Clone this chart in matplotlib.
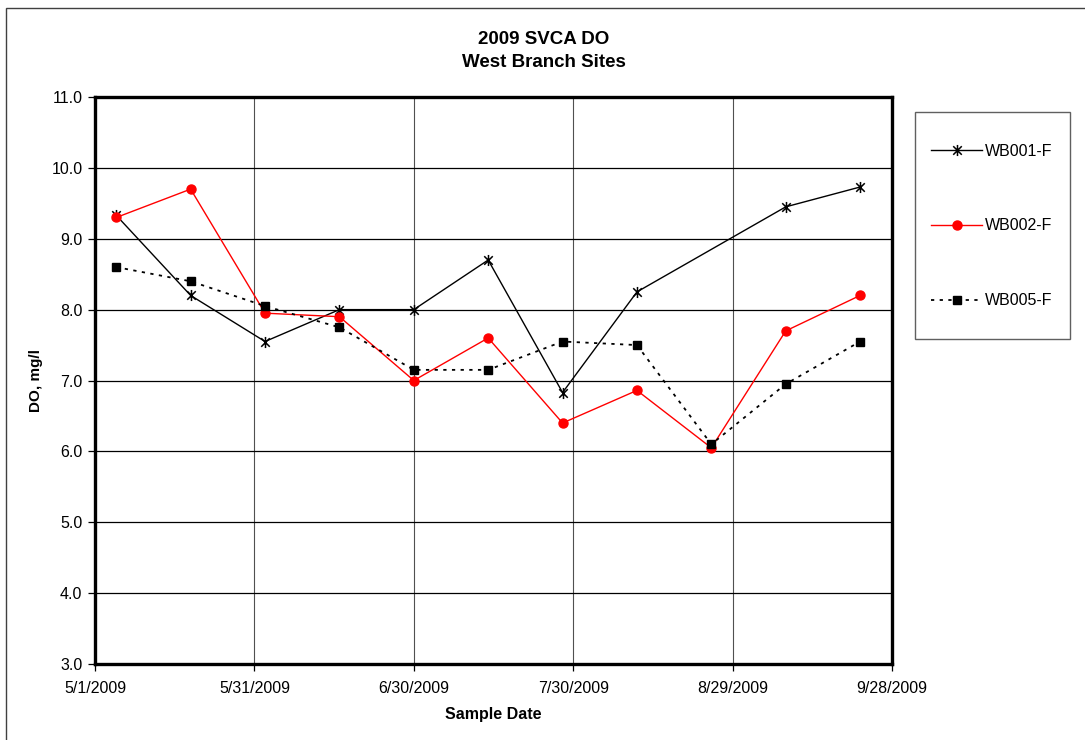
import datetime as dt
import matplotlib
matplotlib.use("Agg")
import matplotlib.pyplot as plt
import matplotlib.dates as mdates
from matplotlib.path import Path
from matplotlib.patches import Rectangle

plt.rcParams['font.family'] = ['Liberation Sans', 'DejaVu Sans']

# sample dates (biweekly)
dates = ["2009-05-05", "2009-05-19", "2009-06-02", "2009-06-16", "2009-06-30",
         "2009-07-14", "2009-07-28", "2009-08-11", "2009-08-25", "2009-09-08",
         "2009-09-22"]
# WB001-F has no value on 8/25
wb001 = [9.33, 8.2, 7.55, 8.0, 8.0, 8.7, 6.83, 8.25, None, 9.45, 9.73]
wb002 = [9.3, 9.7, 7.95, 7.9, 7.0, 7.6, 6.4, 6.86, 6.05, 7.7, 8.2]
wb005 = [8.6, 8.4, 8.05, 7.75, 7.15, 7.15, 7.55, 7.5, 6.1, 6.95, 7.55]
xtick_dates = ["2009-05-01", "2009-05-31", "2009-06-30", "2009-07-30",
               "2009-08-29", "2009-09-28"]
yticks = [3.0, 4.0, 5.0, 6.0, 7.0, 8.0, 9.0, 10.0, 11.0]

def todate(s):
    return dt.datetime.strptime(s, "%Y-%m-%d")

x = [todate(d) for d in dates]
x1 = [d for d, v in zip(x, wb001) if v is not None]
y1 = [v for v in wb001 if v is not None]

# asterisk marker: x plus vertical bar
star = Path([(-1, -1), (1, 1), (-1, 1), (1, -1), (0, -1.3), (0, 1.3)],
            [Path.MOVETO, Path.LINETO, Path.MOVETO, Path.LINETO,
             Path.MOVETO, Path.LINETO])

fig = plt.figure(figsize=(10.85, 7.4), dpi=100)
ax = fig.add_axes([95/1085, 76/740, 797/1085, 567/740])

# outer chart border (only top/left visible)
fig.patches.append(Rectangle((6/1085, -0.1), 1.2, 1 - 8/740 + 0.1,
                             transform=fig.transFigure, fill=False,
                             edgecolor="#404040", lw=1.0))

ax.plot(x1, y1, color="black", lw=1.0, marker=star, markersize=8,
        markeredgewidth=1.1, label="WB001-F", zorder=3)
ax.plot(x, wb002, color="red", lw=1.0, marker="o", markersize=6.5,
        markeredgecolor="red", markerfacecolor="red", label="WB002-F", zorder=3)
ax.plot(x, wb005, color="black", lw=1.3, linestyle=(0, (1.8, 3)), marker="s",
        markersize=6, markerfacecolor="black", label="WB005-F", zorder=3)

ax.set_xlim(todate(xtick_dates[0]), todate(xtick_dates[-1]))
ax.set_ylim(3.0, 11.0)
ax.set_xticks([todate(d) for d in xtick_dates])
ax.xaxis.set_major_formatter(plt.FuncFormatter(
    lambda v, p: "%d/%d/%d" % (mdates.num2date(v).month, mdates.num2date(v).day,
                               mdates.num2date(v).year)))
ax.set_yticks(yticks)
ax.set_yticklabels(["%.1f" % t for t in yticks])

ax.grid(axis="y", color="black", lw=0.9)
ax.grid(axis="x", color="#505050", lw=0.8)
ax.set_axisbelow(True)
for s in ax.spines.values():
    s.set_linewidth(2.4)
    s.set_color("black")

ax.tick_params(axis="both", direction="out", length=5, width=0.9,
               labelsize=11.5, pad=4)
ax.tick_params(axis="x", pad=7)

ax.set_xlabel("Sample Date", fontsize=11.5, fontweight="bold", labelpad=8)
ax.set_ylabel("DO, mg/l", fontsize=11, fontweight="bold", labelpad=6)
fig.text(544/1085, 1 - 51/740, "2009 SVCA DO\nWest Branch Sites",
         ha="center", va="center", fontsize=13.5, fontweight="bold",
         linespacing=1.5)

# legend box
fig.patches.append(Rectangle((915/1085, 1 - 339/740), 155/1085, 227/740,
                             transform=fig.transFigure, fill=False,
                             edgecolor="#606060", lw=1.0))
leg = fig.legend(loc="center", bbox_to_anchor=(992/1085, 1 - 226/740),
                 frameon=False, fontsize=11.5, labelspacing=3.75,
                 handlelength=3.2, handletextpad=0.2)

fig.savefig("out.png", dpi=100)
